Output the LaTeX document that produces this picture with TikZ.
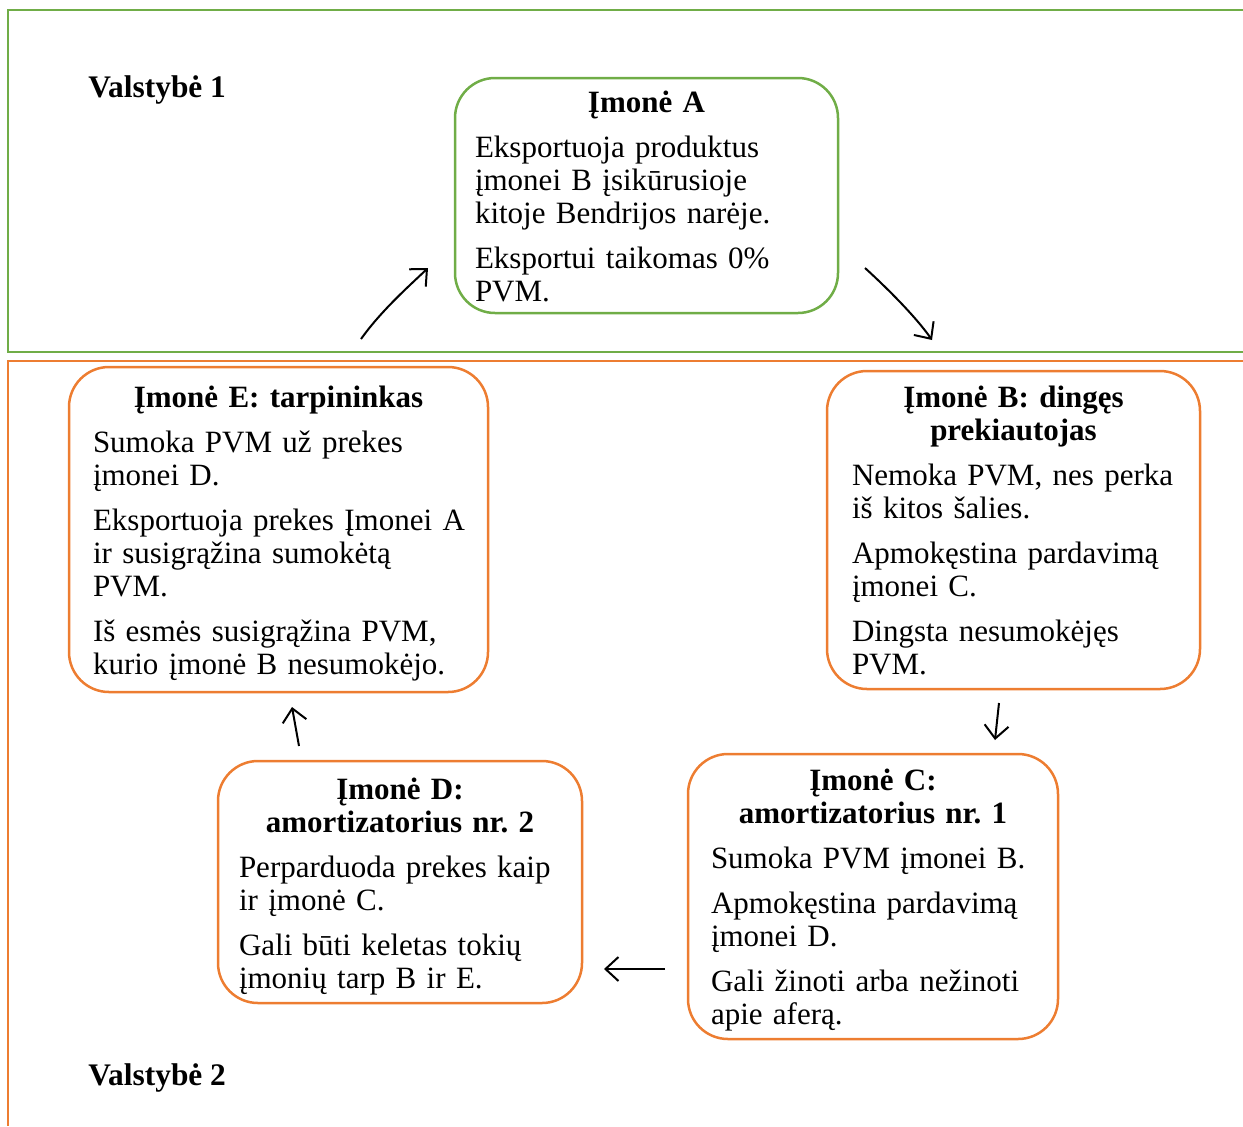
\documentclass[tikz,border=0pt]{standalone}
\usepackage{fontspec}
\setmainfont{Liberation Serif}
\usetikzlibrary{arrows.meta}
\frenchspacing
\definecolor{frgreen}{RGB}{112,173,71}
\definecolor{frorange}{RGB}{237,125,49}
\newcommand\pgap{\par\vspace{6pt}}
\newcommand\boxtitle[1]{{\centering\textbf{#1}\par}\vspace{6pt}}
\newcommand\tallline[2]{\raisebox{0pt}[\dimexpr\height+#1\relax]{#2}}
\tikzset{
  firm/.style={draw, rounded corners=20pt, line width=1.25pt, align=left,
    inner ysep=0pt, font=\fontsize{15.5pt}{16.5pt}\selectfont\frenchspacing},
  greenfirm/.style={firm, draw=frgreen},
  orangefirm/.style={firm, draw=frorange},
  flow/.style={line width=1pt, -{Straight Barb[length=6.5pt,width=12pt]}},
  statelabel/.style={anchor=west, inner sep=0pt, font=\fontsize{15.7pt}{16.5pt}\selectfont\bfseries}
}
\begin{document}
\begin{tikzpicture}[x=0.5pt, y=-0.5pt]
\useasboundingbox (0,0) rectangle (1243,1126);
% frames
\draw[frgreen, line width=1pt] (1243,10) -- (8,10) -- (8,352) -- (1243,352);
\draw[frorange, line width=1pt] (1243,361) -- (8,361) -- (8,1126);
\node[statelabel] (s1) at (88,90) {Valstybė 1};
\node[statelabel] (s2) at (88,1078) {Valstybė 2};
% firms
\node[greenfirm, text width=171.5pt, inner xsep=10pt, minimum height=117.5pt] (A) at (646.5,195.5)
 {\boxtitle{\tallline{1pt}{Įmonė A}}Eksportuoja produktus\\ įmonei B įsikūrusioje\\ kitoje Bendrijos narėje.\pgap Eksportui taikomas 0\%\\ PVM.};
\node[orangefirm, text width=161.5pt, inner xsep=12.5pt, minimum height=159pt] (B) at (1013.5,530)
 {\boxtitle{Įmonė B: dingęs\\ prekiautojas}Nemoka PVM, nes perka\\ iš kitos šalies.\pgap Apmokęstina pardavimą\\ įmonei C.\pgap Dingsta nesumokėjęs\\ PVM.};
\node[orangefirm, text width=162pt, inner xsep=11.5pt, minimum height=142.5pt] (C) at (873,896.5)
 {\boxtitle{\tallline{4pt}{Įmonė C:}\\ amortizatorius nr. 1}Sumoka PVM įmonei B.\pgap Apmokęstina pardavimą\\ įmonei D.\pgap Gali žinoti arba nežinoti\\ apie aferą.};
\node[orangefirm, text width=161pt, inner xsep=10.5pt, minimum height=121pt] (D) at (400,882)
 {\boxtitle{\tallline{5pt}{Įmonė D:}\\ amortizatorius nr. 2}Perparduoda prekes kaip\\ ir įmonė C.\pgap Gali būti keletas tokių\\ įmonių tarp B ir E.};
\node[orangefirm, text width=185.5pt, inner xsep=12pt, minimum height=162.5pt] (E) at (278.5,529.5)
 {\boxtitle{\tallline{4pt}{Įmonė E: tarpininkas}}Sumoka PVM už prekes\\ įmonei D.\pgap \mbox{Eksportuoja prekes Įmonei A}\\ ir susigrąžina sumokėtą\\ PVM.\pgap Iš esmės susigrąžina PVM,\\ kurio įmonė B nesumokėjo.};
% connector end points
\coordinate (ea1) at (361,339);
\coordinate (ea2) at (428,268);
\coordinate (ab1) at (865,268);
\coordinate (ab2) at (932,340);
\coordinate (bc1) at (999,703);
\coordinate (bc2) at (995,740);
\coordinate (cd1) at (665,969);
\coordinate (cd2) at (604,969);
\coordinate (de1) at (299,746);
\coordinate (de2) at (292,707);
% connectors
\draw[flow] (ea1) .. controls (381,311) and (408,287) .. (ea2);
\draw[flow] (ab1) .. controls (887,288) and (916,317) .. (ab2);
\draw[flow] (bc1) -- (bc2);
\draw[flow] (cd1) -- (cd2);
\draw[flow] (de1) -- (de2);
\end{tikzpicture}
\end{document}
